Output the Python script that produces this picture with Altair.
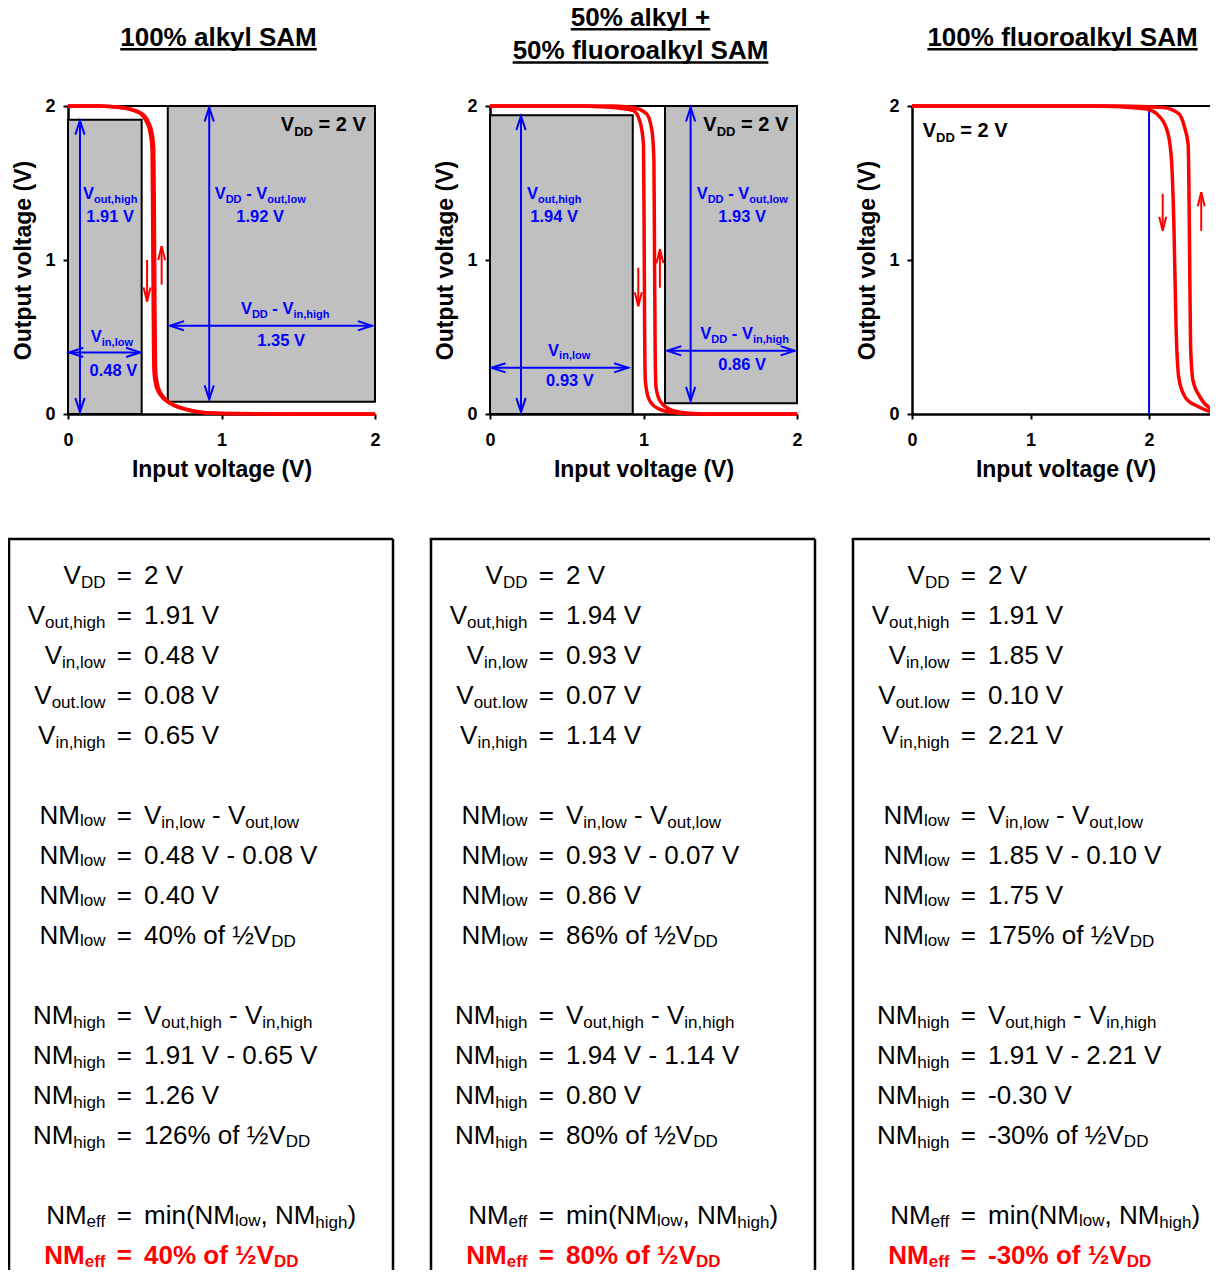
import altair as alt
import pandas as pd

# ---------------- values ----------------
panel_titles = [["100% alkyl SAM"], ["50% alkyl +", "50% fluoroalkyl SAM"], ["100% fluoroalkyl SAM"]]
x_max = [2.0, 2.0, 2.59]
VDD = 2.0
v_out_high = [1.91, 1.94, 1.91]
v_in_low = [0.48, 0.93, 1.85]
v_out_low = [0.08, 0.07, 0.10]
v_in_high = [0.65, 1.14, 2.21]

# transfer curves: forward ("down") and reverse ("up") sweeps
p1_down_x = [0, 0.20, 0.34, 0.43, 0.485, 0.515, 0.537, 0.548, 0.552, 0.556, 0.560, 0.570, 0.584, 0.605, 0.627, 0.693, 0.78, 0.87, 1.0, 1.5, 2.0]
p1_down_y = [2.0, 2.0, 1.99, 1.97, 1.94, 1.89, 1.82, 1.71, 1.20, 0.60, 0.28, 0.20, 0.155, 0.12, 0.095, 0.054, 0.026, 0.01, 0.004, 0.0, 0.0]
p1_up_x = [0, 0.20, 0.35, 0.44, 0.495, 0.526, 0.548, 0.559, 0.563, 0.567, 0.571, 0.581, 0.594, 0.614, 0.636, 0.70, 0.79, 0.88, 1.0, 1.5, 2.0]
p1_up_y = [2.0, 2.0, 1.99, 1.97, 1.94, 1.89, 1.82, 1.71, 1.20, 0.60, 0.28, 0.20, 0.155, 0.12, 0.095, 0.054, 0.026, 0.01, 0.004, 0.0, 0.0]

p2_down_x = [0, 0.30, 0.60, 0.72, 0.85, 0.934, 0.977, 1.000, 1.004, 1.007, 1.012, 1.030, 1.060, 1.107, 1.170, 1.240, 1.400, 2.000]
p2_down_y = [2.0, 2.0, 2.0, 1.995, 1.985, 1.97, 1.90, 1.75, 1.20, 0.60, 0.22, 0.11, 0.06, 0.03, 0.012, 0.005, 0.0, 0.0]
p2_up_x = [0, 0.30, 0.60, 0.80, 0.93, 1.02, 1.055, 1.068, 1.072, 1.076, 1.082, 1.107, 1.17, 1.24, 1.32, 1.50, 2.00]
p2_up_y = [2.0, 2.0, 2.0, 2.0, 1.99, 1.95, 1.84, 1.64, 1.0, 0.40, 0.17, 0.086, 0.03, 0.012, 0.004, 0.0, 0.0]

p3_down_x = [0, 0.5, 1.0, 1.5, 1.755, 1.98, 2.09, 2.16, 2.19, 2.21, 2.228, 2.25, 2.29, 2.34, 2.40, 2.48, 2.57, 2.59]
p3_down_y = [2.0, 2.0, 2.0, 2.0, 1.995, 1.98, 1.93, 1.82, 1.64, 1.21, 0.56, 0.24, 0.13, 0.08, 0.054, 0.025, 0.01, 0.008]
p3_up_x = [0, 0.5, 1.0, 1.5, 1.755, 2.12, 2.25, 2.30, 2.33, 2.34, 2.35, 2.37, 2.43, 2.51, 2.58, 2.59]
p3_up_y = [2.0, 2.0, 2.0, 2.0, 2.0, 1.99, 1.95, 1.86, 1.75, 1.21, 0.45, 0.22, 0.11, 0.04, 0.02, 0.018]

curves = [((p1_down_x, p1_down_y), (p1_up_x, p1_up_y)),
          ((p2_down_x, p2_down_y), (p2_up_x, p2_up_y)),
          ((p3_down_x, p3_down_y), (p3_up_x, p3_up_y))]

# sweep-direction arrows: (x, tail y, head y)
sweep_arrows = [[(0.515, 1.00, 0.73), (0.61, 0.84, 1.09)],
                [(0.966, 0.95, 0.70), (1.107, 0.82, 1.07)],
                [(2.115, 1.43, 1.19), (2.44, 1.19, 1.44)]]

# ---------------- layout / style ----------------
PLOT_W = [307, 307, 307]
H = 308
BLUE, RED = "#0000ff", "#ff0000"
FONT = "Liberation Sans"
ARROW = "M-0.33,1L0,0L0.33,1"
ARROW_RED = "M-0.25,1L0,0L0.25,1"

REG = {' ': 278, '%': 889, '(': 333, ')': 333, ',': 278, '-': 333, '.': 278, '=': 584, '+': 584, '½': 834,
       'A': 667, 'D': 722, 'M': 833, 'N': 722, 'S': 667, 'V': 667,
       'a': 556, 'e': 556, 'f': 278, 'g': 556, 'h': 556, 'i': 222, 'k': 500, 'l': 222, 'm': 833, 'n': 556,
       'o': 556, 'r': 333, 't': 278, 'u': 556, 'w': 722, 'y': 500}
BLD = {' ': 278, '%': 889, '(': 333, ')': 333, ',': 278, '-': 333, '.': 278, '=': 584, '+': 584, '½': 834,
       'A': 722, 'D': 722, 'M': 833, 'N': 722, 'S': 667, 'V': 667,
       'a': 556, 'e': 556, 'f': 333, 'g': 611, 'h': 611, 'i': 278, 'k': 556, 'l': 278, 'm': 889, 'n': 611,
       'o': 611, 'r': 389, 't': 333, 'u': 611, 'w': 778, 'y': 556}


def tw(s, size, bold):
    t = BLD if bold else REG
    return sum(t.get(c, 556) for c in s) * size / 1000.0


def put(rows, segs, x, base, align, bold, color):
    w = sum(tw(t, s, bold) for t, s, d in segs)
    x0 = x - w / 2 if align == "center" else (x - w if align == "right" else x)
    cx = x0
    for t, s, d in segs:
        lead = len(t) - len(t.lstrip(' '))
        core = t.strip(' ')
        if core:
            rows.append(dict(px=cx + tw(' ' * lead, s, bold), py=base + d, text=core,
                             size=s, color=color, bold=bold))
        cx += tw(t, s, bold)
    return x0, w


def f2(v):
    return f"{v:.2f} V"


def pct(v):
    return f"{round(v / (VDD / 2) * 100):d}% of ½V"


B, b, BD = 16.5, 11, 3.5   # blue label sizes


def vlab(sub):
    return [("V", B, 0), (sub, b, BD)]


def vdd_minus(sub):
    return [("V", B, 0), ("DD", b, BD), (" - V", B, 0), (sub, b, BD)]


VDD_LABEL = [("V", 20, 0), ("DD", 13, 5), (f" = {VDD:g} V", 20, 0)]


def labels_for(i):
    voh, vil, vol, vih = v_out_high[i], v_in_low[i], v_out_low[i], v_in_high[i]
    if i == 0:
        return [(vlab("out,high"), 0.275, 1.396, "center"), ([(f2(voh), B, 0)], 0.275, 1.245, "center"),
                (vlab("in,low"), 0.286, 0.465, "center"), ([(f2(vil), B, 0)], 0.296, 0.249, "center"),
                (vdd_minus("out,low"), 1.252, 1.396, "center"), ([(f2(VDD - vol), B, 0)], 1.252, 1.245, "center"),
                (vdd_minus("in,high"), 1.415, 0.649, "center"), ([(f2(VDD - vih), B, 0)], 1.388, 0.44, "center")]
    if i == 1:
        return [(vlab("out,high"), 0.418, 1.396, "center"), ([(f2(voh), B, 0)], 0.418, 1.245, "center"),
                (vlab("in,low"), 0.516, 0.379, "center"), ([(f2(vil), B, 0)], 0.521, 0.184, "center"),
                (vdd_minus("out,low"), 1.643, 1.396, "center"), ([(f2(VDD - vol), B, 0)], 1.643, 1.245, "center"),
                (vdd_minus("in,high"), 1.659, 0.487, "center"), ([(f2(VDD - vih), B, 0)], 1.643, 0.288, "center")]
    return []


vdd_label_pos = [(1.94, 1.84, "right"), (1.943, 1.84, "right"), (0.09, 1.80, "left")]


def blue_arrows_for(i):
    voh, vil, vol, vih = v_out_high[i], v_in_low[i], v_out_low[i], v_in_high[i]
    if i == 0:
        return [(0.078, 0.012, 0.078, voh - 0.005), (0.008, 0.40, vil - 0.01, 0.40),
                (0.92, vol + 0.015, 0.92, VDD - 0.01), (vih + 0.015, 0.573, VDD - 0.02, 0.573)]
    if i == 1:
        return [(0.202, 0.012, 0.202, voh - 0.005), (0.01, 0.30, vil - 0.03, 0.30),
                (1.307, vol + 0.015, 1.307, VDD - 0.01), (vih + 0.015, 0.411, VDD - 0.015, 0.411)]
    return []


def box_lines(i):
    voh, vil, vol, vih = v_out_high[i], v_in_low[i], v_out_low[i], v_in_high[i]
    nml, nmh = vil - vol, voh - vih
    nme = min(nml, nmh)
    R, S = 26, 17
    return [
        (0, "V", "DD", 4, [(f"{VDD:g} V", R, 0)], False),
        (1, "V", "out,high", 4, [(f2(voh), R, 0)], False),
        (2, "V", "in,low", 4, [(f2(vil), R, 0)], False),
        (3, "V", "out.low", 4, [(f2(vol), R, 0)], False),
        (4, "V", "in,high", 4, [(f2(vih), R, 0)], False),
        (6, "NM", "low", 2.5, [("V", R, 0), ("in,low", S, 4), (" - V", R, 0), ("out,low", S, 4)], False),
        (7, "NM", "low", 2.5, [(f"{f2(vil)} - {f2(vol)}", R, 0)], False),
        (8, "NM", "low", 2.5, [(f2(nml), R, 0)], False),
        (9, "NM", "low", 2.5, [(pct(nml), R, 0), ("DD", S, 3.5)], False),
        (11, "NM", "high", 4, [("V", R, 0), ("out,high", S, 4), (" - V", R, 0), ("in,high", S, 4)], False),
        (12, "NM", "high", 4, [(f"{f2(voh)} - {f2(vih)}", R, 0)], False),
        (13, "NM", "high", 4, [(f2(nmh), R, 0)], False),
        (14, "NM", "high", 4, [(pct(nmh), R, 0), ("DD", S, 3.5)], False),
        (16, "NM", "eff", 3.5, [("min(NM", R, 0), ("low", S, 2.5), (", NM", R, 0), ("high", S, 4), (")", R, 0)], False),
        (17, "NM", "eff", 3.5, [(pct(nme), R, 0), ("DD", S, 3.5)], True),
    ]


BOX_L, BOX_R, BOX_T, BOX_B = -59, 325, 433, 1164


def make_panel(i):
    W = PLOT_W[i]
    xmax = x_max[i]
    ppx = W / xmax
    ppy = H / 2.0
    fx = lambda px: px / ppx
    fy = lambda py: (H - py) / ppy
    tx = lambda x: x * ppx
    ty = lambda y: H - y * ppy

    xs = alt.Scale(domain=[0, xmax], nice=False, zero=False)
    ys = alt.Scale(domain=[0, 2], nice=False, zero=False)
    xax = alt.Axis(tickCount=2, format="d", title="Input voltage (V)",
                   labelPadding=12, titlePadding=9, labelFlush=False, labelOverlap=False)
    yax = alt.Axis(tickCount=2, format="d", title="Output voltage (V)",
                   labelPadding=8, titlePadding=9, labelFlush=False, labelOverlap=False)

    def X(f):
        return alt.X(f"{f}:Q", scale=xs, axis=xax)

    def Y(f):
        return alt.Y(f"{f}:Q", scale=ys, axis=yax)

    layers = []

    # text box frame (left, top, right edges; bottom runs off the page)
    right = BOX_R if i < 2 else W
    hb = pd.DataFrame({"x": [fx(BOX_L - 1.25)], "x2": [fx(right)], "y": [fy(BOX_T)]})
    layers.append(alt.Chart(hb).mark_rule(color="black", strokeWidth=2.5)
                  .encode(x=X("x"), x2="x2:Q", y=Y("y")))
    vxs = [BOX_L] + ([BOX_R] if i < 2 else [])
    vb = pd.DataFrame({"x": [fx(v) for v in vxs], "y": [fy(BOX_T)] * len(vxs), "y2": [fy(BOX_B)] * len(vxs)})
    layers.append(alt.Chart(vb).mark_rule(color="black", strokeWidth=2.5)
                  .encode(x=X("x"), y=Y("y"), y2="y2:Q"))

    # noise-margin rectangles
    if i < 2:
        rects = pd.DataFrame({"x1": [0.0, v_in_high[i]], "x2": [v_in_low[i], VDD],
                              "y1": [0.0, v_out_low[i]], "y2": [v_out_high[i], VDD]})
        layers.append(alt.Chart(rects).mark_rect(fill="#c0c0c0", stroke="black", strokeWidth=2)
                      .encode(x=X("x1"), x2="x2:Q", y=Y("y1"), y2="y2:Q"))

    # VDD line
    top = pd.DataFrame({"x": [0.0], "x2": [xmax], "y": [VDD]})
    layers.append(alt.Chart(top).mark_rule(color="black", strokeWidth=2)
                  .encode(x=X("x"), x2="x2:Q", y=Y("y")))

    # blue arrows
    ba = blue_arrows_for(i)
    if ba:
        shafts = pd.DataFrame([dict(x=a, y=b_, x2=c, y2=d) for a, b_, c, d in ba])
        layers.append(alt.Chart(shafts).mark_rule(color=BLUE, strokeWidth=2)
                      .encode(x=X("x"), y=Y("y"), x2="x2:Q", y2="y2:Q"))
        heads = []
        for a, b_, c, d in ba:
            if a == c:
                heads += [dict(x=a, y=b_, ang=180), dict(x=c, y=d, ang=0)]
            else:
                heads += [dict(x=a, y=b_, ang=270), dict(x=c, y=d, ang=90)]
        layers.append(alt.Chart(pd.DataFrame(heads)).mark_point(shape=ARROW, filled=False, strokeWidth=2,
                                                                 opacity=1, size=784, color=BLUE)
                      .encode(x=X("x"), y=Y("y"), angle=alt.Angle("ang:Q", scale=None)))
    if i == 2:
        vl = pd.DataFrame({"x": [VDD], "y": [0.0], "y2": [1.975]})
        layers.append(alt.Chart(vl).mark_rule(color=BLUE, strokeWidth=2)
                      .encode(x=X("x"), y=Y("y"), y2="y2:Q"))

    # texts
    rows = []
    for segs, x, y, al in labels_for(i):
        put(rows, segs, tx(x), ty(y), al, True, BLUE)
    vx, vy, val = vdd_label_pos[i]
    put(rows, VDD_LABEL, tx(vx), ty(vy), val, True, "black")

    ul = []
    tl = panel_titles[i]
    bases = [-60.3] if len(tl) == 1 else [-80.3, -47.0]
    for t, bs in zip(tl, bases):
        x0, w = put(rows, [(t, 26, 0)], 150.5, bs, "center", True, "black")
        ul.append(dict(x=fx(x0), x2=fx(x0 + w), y=fy(bs + 3.6)))

    for k, main, sub, sdrop, rhs, bold in box_lines(i):
        base = 477.5 + 40 * k
        col = RED if bold else "black"
        put(rows, [(main, 26, 0), (sub, 17, sdrop)], 37.5, base, "right", bold, col)
        put(rows, [("=", 26, 0)], 56.3, base, "center", bold, col)
        put(rows, rhs, 76.0, base, "left", bold, col)

    tdf = pd.DataFrame(rows)
    tdf["x"] = tdf["px"].map(fx)
    tdf["y"] = tdf["py"].map(fy)
    for wt in (False, True):
        sub_df = tdf[tdf["bold"] == wt][["x", "y", "text", "size", "color"]]
        layers.append(alt.Chart(sub_df).mark_text(align="left", baseline="alphabetic", font=FONT,
                                                  fontWeight="bold" if wt else "normal")
                      .encode(x=X("x"), y=Y("y"), text="text:N",
                              size=alt.Size("size:Q", scale=None),
                              color=alt.Color("color:N", scale=None)))
    layers.append(alt.Chart(pd.DataFrame(ul)).mark_rule(color="black", strokeWidth=2.5)
                  .encode(x=X("x"), x2="x2:Q", y=Y("y")))

    # transfer curves
    crow = []
    for ci, (cx, cy) in enumerate(curves[i]):
        for j, (xv, yv) in enumerate(zip(cx, cy)):
            crow.append(dict(x=xv, y=yv, c=ci, j=j))
    layers.append(alt.Chart(pd.DataFrame(crow)).mark_line(color=RED, strokeWidth=3.5, interpolate="monotone")
                  .encode(x=X("x"), y=Y("y"), detail="c:N", order="j:Q"))

    # sweep arrows
    sa = sweep_arrows[i]
    sdf = pd.DataFrame([dict(x=x, y=t, y2=h) for x, t, h in sa])
    layers.append(alt.Chart(sdf).mark_rule(color=RED, strokeWidth=2)
                  .encode(x=X("x"), y=Y("y"), y2="y2:Q"))
    hdf = pd.DataFrame([dict(x=x, y=h, ang=(0 if h > t else 180)) for x, t, h in sa])
    layers.append(alt.Chart(hdf).mark_point(shape=ARROW_RED, filled=False, strokeWidth=2,
                                            opacity=1, size=784, color=RED)
                  .encode(x=X("x"), y=Y("y"), angle=alt.Angle("ang:Q", scale=None)))

    return alt.layer(*layers).properties(width=W, height=H)


panels = [make_panel(i) for i in range(3)]

chart = alt.hconcat(*panels, spacing=115, bounds="flush").properties(
    padding={"left": -2, "top": -4, "right": -16, "bottom": -2}
).configure(font=FONT).configure_view(stroke=None).configure_axis(
    grid=False, domainColor="black", domainWidth=2.5, tickColor="black", tickWidth=2, tickSize=5,
    labelFont=FONT, labelFontSize=18, labelFontWeight="bold", labelColor="black", labelOverlap=False,
    titleFont=FONT, titleFontSize=23, titleFontWeight="bold", titleColor="black")

chart.save("out.html", embed_options={"renderer": "svg", "actions": False})
